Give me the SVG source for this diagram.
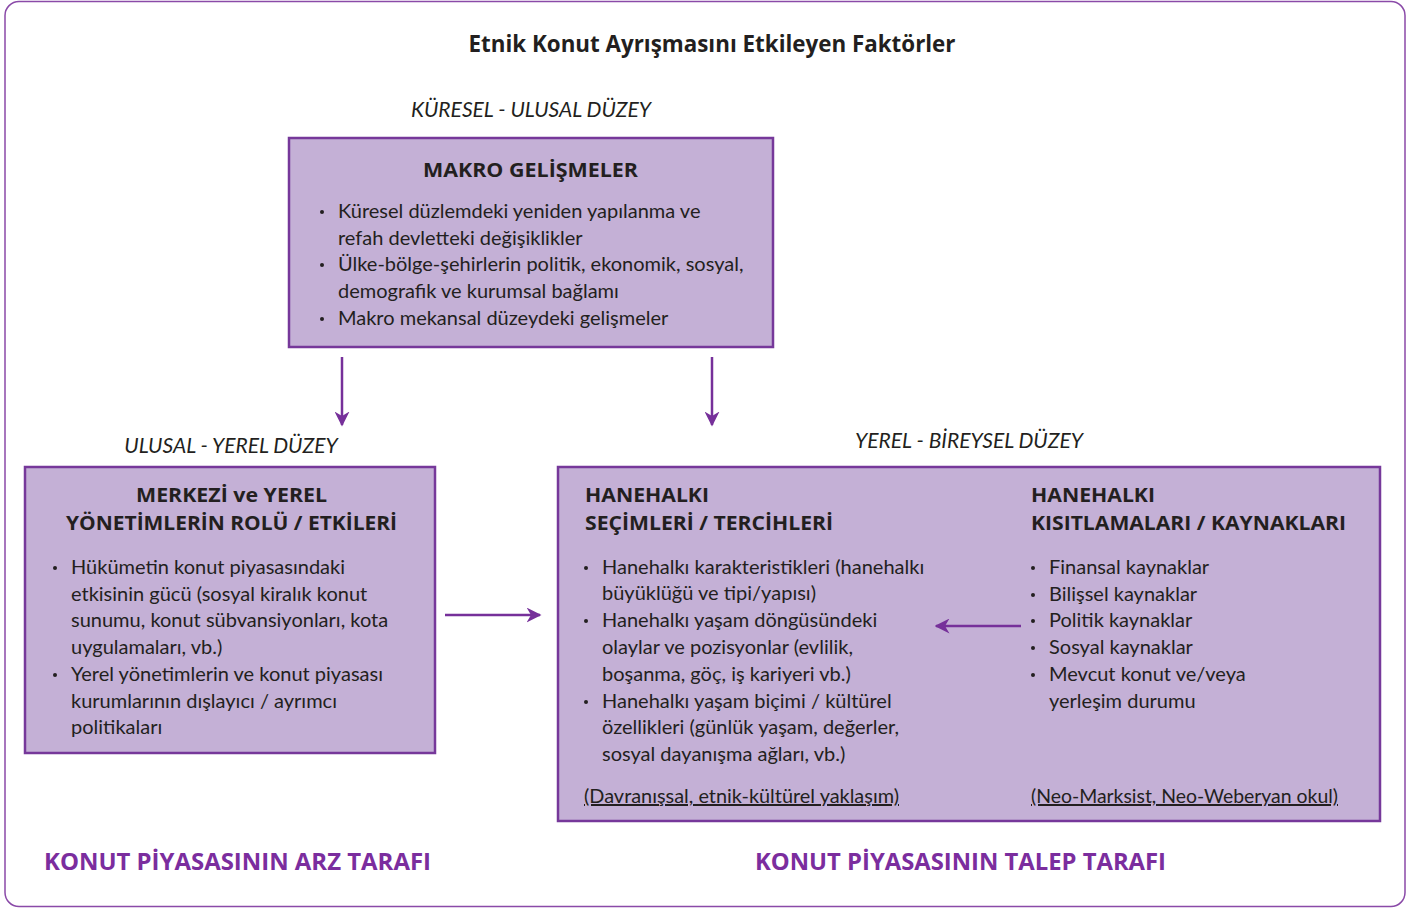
<svg xmlns="http://www.w3.org/2000/svg" width="1414" height="908" viewBox="0 0 1414 908">
<defs>
<style>
text{font-family:Lato,"Open Sans","Noto Sans",sans-serif;fill:#231f20}
.b{font-size:20px}
.h{font-family:"Open Sans",Lato,sans-serif;font-size:20px;font-weight:bold}
.lv{font-size:21px;font-style:italic}
.bt{font-family:"Open Sans",Lato,sans-serif;font-size:24px;font-weight:bold;fill:#7b2d9e}
.box{fill:#c4b0d6;stroke:#76389a;stroke-width:2.5}
.con{stroke:#76309a;stroke-width:2.5;fill:none}
.dot{fill:#231f20}
.u{text-decoration:underline}
</style>
<marker id="ah" viewBox="0 0 10 10" refX="9" refY="5" markerWidth="6" markerHeight="6" orient="auto" markerUnits="strokeWidth"><path d="M0,0 L10,5 L0,10 L3,5 z" fill="#76309a"/></marker>
</defs>
<rect x="5" y="1.5" width="1400" height="905" rx="14" fill="#fff" stroke="#8a4aa8" stroke-width="1.5"/>
<text x="712" y="52" text-anchor="middle" textLength="487" lengthAdjust="spacingAndGlyphs" style="font-family:'Open Sans',Lato,sans-serif;font-size:23px;font-weight:bold">Etnik Konut Ayrışmasını Etkileyen Faktörler</text>
<text class="lv" x="531" y="117" text-anchor="middle">KÜRESEL - ULUSAL DÜZEY</text>
<text class="lv" x="231" y="453" text-anchor="middle">ULUSAL - YEREL DÜZEY</text>
<text class="lv" x="969" y="448" text-anchor="middle">YEREL - BİREYSEL DÜZEY</text>
<g id="makro">
<rect class="box" x="289" y="138" width="484" height="209"/>
<text class="h" x="423" y="177" textLength="215" lengthAdjust="spacingAndGlyphs">MAKRO GELİŞMELER</text>
<circle class="dot" cx="322" cy="212" r="2"/><text class="b" x="338" y="218">Küresel düzlemdeki yeniden yapılanma ve</text>
<text class="b" x="338" y="245">refah devletteki değişiklikler</text>
<circle class="dot" cx="322" cy="265" r="2"/><text class="b" x="338" y="271">Ülke-bölge-şehirlerin politik, ekonomik, sosyal,</text>
<text class="b" x="338" y="298">demografik ve kurumsal bağlamı</text>
<circle class="dot" cx="322" cy="319" r="2"/><text class="b" x="338" y="325">Makro mekansal düzeydeki gelişmeler</text>
</g>
<g id="merkezi">
<rect class="box" x="25" y="467" width="410" height="286"/>
<text class="h" x="136" y="502" textLength="191" lengthAdjust="spacingAndGlyphs">MERKEZİ ve YEREL</text>
<text class="h" x="66" y="530" textLength="331" lengthAdjust="spacingAndGlyphs">YÖNETİMLERİN ROLÜ / ETKİLERİ</text>
<circle class="dot" cx="55" cy="568" r="2"/><text class="b" x="71" y="574">Hükümetin konut piyasasındaki</text>
<text class="b" x="71" y="601">etkisinin gücü (sosyal kiralık konut</text>
<text class="b" x="71" y="627">sunumu, konut sübvansiyonları, kota</text>
<text class="b" x="71" y="654">uygulamaları, vb.)</text>
<circle class="dot" cx="55" cy="675" r="2"/><text class="b" x="71" y="681">Yerel yönetimlerin ve konut piyasası</text>
<text class="b" x="71" y="708">kurumlarının dışlayıcı / ayrımcı</text>
<text class="b" x="71" y="734">politikaları</text>
</g>
<g id="hanehalki">
<rect class="box" x="558" y="467" width="822" height="354"/>
<g id="secimler">
<text class="h" x="585" y="502" textLength="124" lengthAdjust="spacingAndGlyphs">HANEHALKI</text>
<text class="h" x="585" y="530" textLength="248" lengthAdjust="spacingAndGlyphs">SEÇİMLERİ / TERCİHLERİ</text>
<circle class="dot" cx="586" cy="568" r="2"/><text class="b" x="602" y="574">Hanehalkı karakteristikleri (hanehalkı</text>
<text class="b" x="602" y="600">büyüklüğü ve tipi/yapısı)</text>
<circle class="dot" cx="586" cy="621" r="2"/><text class="b" x="602" y="627">Hanehalkı yaşam döngüsündeki</text>
<text class="b" x="602" y="654">olaylar ve pozisyonlar (evlilik,</text>
<text class="b" x="602" y="681">boşanma, göç, iş kariyeri vb.)</text>
<circle class="dot" cx="586" cy="702" r="2"/><text class="b" x="602" y="708">Hanehalkı yaşam biçimi / kültürel</text>
<text class="b" x="602" y="734">özellikleri (günlük yaşam, değerler,</text>
<text class="b" x="602" y="761">sosyal dayanışma ağları, vb.)</text>
<text class="b u" x="584" y="803" textLength="315" lengthAdjust="spacingAndGlyphs">(Davranışsal, etnik-kültürel yaklaşım)</text>
</g>
<g id="kisitlamalar">
<text class="h" x="1031" y="502" textLength="124" lengthAdjust="spacingAndGlyphs">HANEHALKI</text>
<text class="h" x="1031" y="530" textLength="315" lengthAdjust="spacingAndGlyphs">KISITLAMALARI / KAYNAKLARI</text>
<circle class="dot" cx="1033" cy="568" r="2"/><text class="b" x="1049" y="574">Finansal kaynaklar</text>
<circle class="dot" cx="1033" cy="595" r="2"/><text class="b" x="1049" y="601">Bilişsel kaynaklar</text>
<circle class="dot" cx="1033" cy="621" r="2"/><text class="b" x="1049" y="627">Politik kaynaklar</text>
<circle class="dot" cx="1033" cy="648" r="2"/><text class="b" x="1049" y="654">Sosyal kaynaklar</text>
<circle class="dot" cx="1033" cy="675" r="2"/><text class="b" x="1049" y="681">Mevcut konut ve/veya</text>
<text class="b" x="1049" y="708">yerleşim durumu</text>
<text class="b u" x="1031" y="803" textLength="307" lengthAdjust="spacingAndGlyphs">(Neo-Marksist, Neo-Weberyan okul)</text>
</g>
</g>
<g id="connectors">
<line class="con" x1="342" y1="357" x2="342" y2="425" marker-end="url(#ah)"/>
<line class="con" x1="712" y1="357" x2="712" y2="425" marker-end="url(#ah)"/>
<line class="con" x1="445" y1="615" x2="540" y2="615" marker-end="url(#ah)"/>
<line class="con" x1="1021" y1="626" x2="936" y2="626" marker-end="url(#ah)"/>
</g>
<text class="bt" x="44" y="870" textLength="387" lengthAdjust="spacingAndGlyphs">KONUT PİYASASININ ARZ TARAFI</text>
<text class="bt" x="755" y="870" textLength="411" lengthAdjust="spacingAndGlyphs">KONUT PİYASASININ TALEP TARAFI</text>
</svg>
